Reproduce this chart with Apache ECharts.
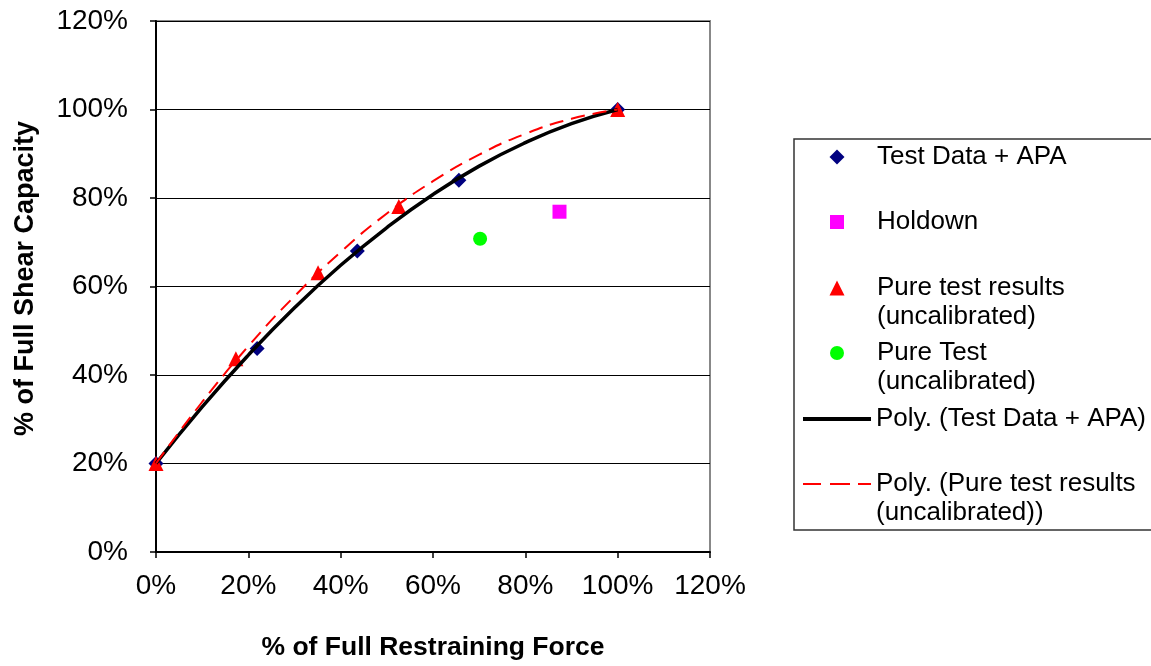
<!DOCTYPE html>
<html>
<head>
<meta charset="utf-8">
<script src="https://cdn.jsdelivr.net/npm/echarts@6/dist/echarts.min.js"></script>
<style>
  html, body { margin: 0; padding: 0; background: #fff; }
  #chart { width: 1151px; height: 666px; }
</style>
</head>
<body>
<div id="chart"></div>
<script>
// ---- Data (percent values) ----
const testDataAPA_x = [0, 21.9, 43.6, 65.6, 100];
const testDataAPA_y = [20, 46, 68, 84, 100];

const holdown_x = [87.4];
const holdown_y = [76.9];

const pureTestResults_x = [0, 17.3, 35.1, 52.6, 100];
const pureTestResults_y = [20, 43.7, 63.1, 78.1, 100];

const pureTest_x = [70.2];
const pureTest_y = [70.8];

// Polynomial trendlines
const trendX = [0, 10, 20, 30, 40, 50, 60, 70, 80, 90, 100];
const polyTestDataAPA_y = [20, 32.8, 44.5, 55.2, 64.8, 73.3, 80.8, 87.2, 92.5, 96.8, 100];
const polyPureTest_y = [20, 33.9, 46.5, 57.8, 67.8, 76.5, 83.8, 89.8, 94.5, 97.9, 100];

const axisTicks = [0, 20, 40, 60, 80, 100, 120];

const names = {
  apa: 'Test Data + APA',
  hold: 'Holdown',
  pureRes: 'Pure test results (uncalibrated)',
  pure: 'Pure Test (uncalibrated)',
  polyApa: 'Poly. (Test Data + APA)',
  polyPure: 'Poly. (Pure test results (uncalibrated))'
};
const legendLabels = {};
legendLabels[names.apa] = 'Test Data + APA';
legendLabels[names.hold] = 'Holdown';
legendLabels[names.pureRes] = '\nPure test results\n(uncalibrated)';
legendLabels[names.pure] = '\nPure Test\n(uncalibrated)';
legendLabels[names.polyApa] = 'Poly. (Test Data + APA)';
legendLabels[names.polyPure] = '\nPoly. (Pure test results\n(uncalibrated))';

function zip(xs, ys) { return xs.map((x, i) => [x, ys[i]]); }

const FONT = "'Liberation Sans', Arial, sans-serif";
const LH = 29;
const LEG_FS = 26;

// symbol-type legend entry (icon centred at x=837, text starting at x=877)
function legendSymbol(name, center, lines, size) {
  const h = lines === 1 ? LH : LH * 3;
  return {
    data: [name],
    orient: 'vertical',
    left: 837 - size / 2,
    top: center - h / 2,
    padding: 0,
    itemWidth: size,
    itemHeight: size,
    itemGap: 0,
    symbolKeepAspect: true,
    selectedMode: false,
    formatter: n => legendLabels[n],
    textStyle: {
      fontSize: LEG_FS, color: '#000', fontFamily: FONT, lineHeight: LH,
      padding: [0, 0, 0, 877 - (837 + size / 2) - 5]
    }
  };
}
// line-type legend entry (icon spanning x=803..871)
function legendLine(name, center, lines, iconPath, thick) {
  const h = lines === 1 ? LH : LH * 3;
  return {
    data: [{ name: name, icon: iconPath }],
    orient: 'vertical',
    left: 803,
    top: center - h / 2,
    padding: 0,
    itemWidth: 68,
    itemHeight: thick,
    itemGap: 0,
    selectedMode: false,
    formatter: n => legendLabels[n],
    textStyle: { fontSize: LEG_FS, color: '#000', fontFamily: FONT, lineHeight: LH }
  };
}

const chart = echarts.init(document.getElementById('chart'), null, { renderer: 'canvas' });

const option = {
  animation: false,
  backgroundColor: '#fff',
  textStyle: { fontFamily: FONT },
  grid: {
    left: 156, top: 21, right: 441, bottom: 114,
    show: true, borderColor: '#888', borderWidth: 2,
    outerBoundsMode: 'none', containLabel: false
  },
  xAxis: {
    type: 'value', min: axisTicks[0], max: axisTicks[axisTicks.length - 1], interval: 20,
    name: '% of Full Restraining Force',
    nameLocation: 'middle', nameGap: 82,
    nameTextStyle: { fontSize: 26.5, fontWeight: 'bold', color: '#000', fontFamily: FONT },
    axisLine: { show: true, onZero: false, lineStyle: { color: '#000', width: 2 } },
    axisTick: { show: true, inside: false, length: 6, lineStyle: { color: '#000', width: 1.5 } },
    axisLabel: { formatter: '{value}%', fontSize: 28, color: '#000', margin: 20, fontFamily: FONT },
    splitLine: { show: false }
  },
  yAxis: {
    type: 'value', min: axisTicks[0], max: axisTicks[axisTicks.length - 1], interval: 20,
    name: '% of Full Shear Capacity',
    nameLocation: 'middle', nameGap: 117, nameRotate: 90,
    nameTextStyle: { fontSize: 27, fontWeight: 'bold', color: '#000', fontFamily: FONT, padding: [0, 0, 0, 16] },
    axisLine: { show: true, onZero: false, lineStyle: { color: '#000', width: 2 } },
    axisTick: { show: true, inside: false, length: 6, lineStyle: { color: '#000', width: 1.5 } },
    axisLabel: { formatter: '{value}%', fontSize: 28, color: '#000', margin: 28, fontFamily: FONT },
    splitLine: { show: true, lineStyle: { color: '#000', width: 1 } }
  },
  legend: [
    legendSymbol(names.apa, 157, 1, 15),
    legendSymbol(names.hold, 222, 1, 14),
    legendSymbol(names.pureRes, 288, 2, 15),
    legendSymbol(names.pure, 353, 2, 14),
    legendLine(names.polyApa, 419, 1, 'path://M0,0H68V4H0Z', 4),
    legendLine(names.polyPure, 484, 2, 'path://M0,0H18V2H0Z M27,0H47V2H27Z M55,0H68V2H55Z', 2)
  ],
  graphic: [{
    type: 'rect', silent: true,
    shape: { x: 794, y: 139, width: 420, height: 391 },
    style: { fill: 'none', stroke: '#333', lineWidth: 1.5 }
  }],
  series: [
    {
      name: names.apa, type: 'scatter', data: zip(testDataAPA_x, testDataAPA_y),
      symbol: 'diamond', symbolSize: 15, symbolKeepAspect: true,
      itemStyle: { color: '#000080', opacity: 1 }
    },
    {
      name: names.hold, type: 'scatter', data: zip(holdown_x, holdown_y),
      symbol: 'rect', symbolSize: 14, symbolKeepAspect: true,
      itemStyle: { color: '#FF00FF', opacity: 1 }
    },
    {
      name: names.pureRes, type: 'scatter', data: zip(pureTestResults_x, pureTestResults_y),
      symbol: 'triangle', symbolSize: 15, symbolKeepAspect: true,
      itemStyle: { color: '#FF0000', opacity: 1 }
    },
    {
      name: names.pure, type: 'scatter', data: zip(pureTest_x, pureTest_y),
      symbol: 'circle', symbolSize: 14, symbolKeepAspect: true,
      itemStyle: { color: '#00FF00', opacity: 1 }
    },
    {
      name: names.polyApa, type: 'line', data: zip(trendX, polyTestDataAPA_y),
      smooth: true, symbol: 'none', showSymbol: false,
      lineStyle: { color: '#000', width: 3.5 }, itemStyle: { color: '#000' }
    },
    {
      name: names.polyPure, type: 'line', data: zip(trendX, polyPureTest_y),
      smooth: true, symbol: 'none', showSymbol: false,
      lineStyle: { color: '#FF0000', width: 2, type: [14, 8] }, itemStyle: { color: '#FF0000' }
    }
  ]
};
chart.setOption(option);
</script>
</body>
</html>
